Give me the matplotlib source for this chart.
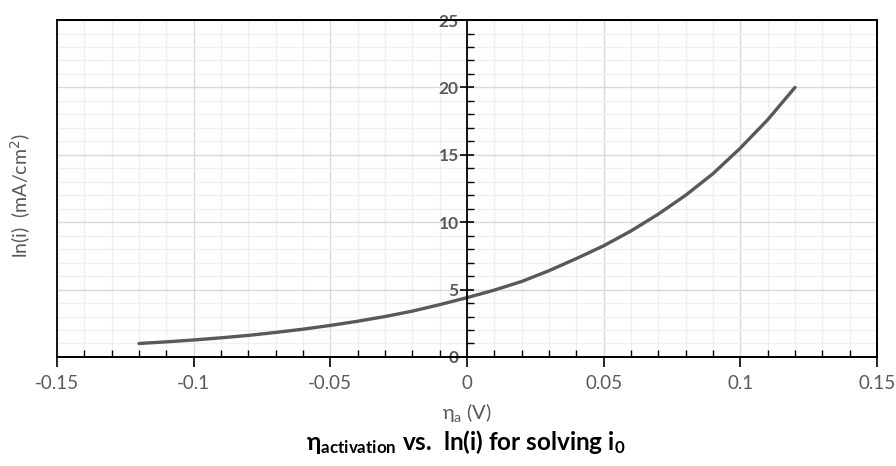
import matplotlib
matplotlib.use("Agg")
import matplotlib.pyplot as plt
from matplotlib.ticker import MultipleLocator
from matplotlib.patches import Rectangle

# Data
eta = [-0.12, -0.11, -0.10, -0.09, -0.08, -0.07, -0.06, -0.05, -0.04, -0.03, -0.02,
       -0.01, 0.0, 0.01, 0.02, 0.03, 0.04, 0.05, 0.06, 0.07, 0.08, 0.09, 0.10, 0.11, 0.12]
ln_i = [1.0, 1.12, 1.26, 1.42, 1.6, 1.82, 2.06, 2.34, 2.65, 3.0, 3.4,
        3.88, 4.4, 4.96, 5.6, 6.4, 7.3, 8.25, 9.35, 10.6, 12.0, 13.6, 15.5, 17.6, 20.0]
x_ticks = [-0.15, -0.1, -0.05, 0, 0.05, 0.1, 0.15]
x_ticklabels = ["-0.15", "-0.1", "-0.05", "0", "0.05", "0.1", "0.15"]
y_ticks = [0, 5, 10, 15, 20, 25]

gray = "#595959"
font = ["Lato", "DejaVu Sans"]
plt.rcParams['font.family'] = font

fig = plt.figure(figsize=(8.96, 4.66), dpi=100)
ax = fig.add_axes([0.0636, 0.234, 0.9152, 0.723])

ax.set_xlim(-0.15, 0.15)
ax.set_ylim(0, 25)

ax.plot(eta, ln_i, color=gray, lw=2.4, solid_capstyle='round',
        solid_joinstyle='round', zorder=5)

ax.xaxis.set_major_locator(MultipleLocator(0.05))
ax.xaxis.set_minor_locator(MultipleLocator(0.01))
ax.yaxis.set_major_locator(MultipleLocator(5))
ax.yaxis.set_minor_locator(MultipleLocator(1))

ax.grid(which='major', color='#d9d9d9', lw=1.0, zorder=0)
ax.grid(which='minor', color='#f0f0f0', lw=1.0, zorder=0)
ax.set_axisbelow(True)

ax.spines['left'].set_position(('data', 0))
ax.spines['left'].set_zorder(6)
ax.spines['bottom'].set_zorder(6)
for s in ax.spines.values():
    s.set_color('black')
    s.set_linewidth(1.3)

ax.set_xticks(x_ticks)
ax.set_xticklabels(x_ticklabels)
ax.set_yticks(y_ticks)
ax.set_yticklabels([str(v) for v in y_ticks])

ax.tick_params(axis='x', which='major', direction='out', length=7, width=1.2,
               colors='black', labelcolor=gray, labelsize=13.5, pad=6)
ax.tick_params(axis='x', which='minor', direction='in', length=5, width=1.0, colors='black')
ax.tick_params(axis='y', which='major', direction='inout', length=10, width=1.2,
               colors='black', labelcolor=gray, labelsize=12.5, pad=1)
ax.tick_params(axis='y', which='minor', direction='in', length=5, width=1.0, colors='black')
for lab in ax.get_yticklabels():
    lab.set_fontweight('bold')

# outer frame
ax.add_patch(Rectangle((0, 0), 1, 1, transform=ax.transAxes, fill=False,
                       edgecolor='black', lw=1.3, zorder=7, clip_on=False))

fig.text(0.023, 0.58, "ln(i)  (mA/cm$^2$)", rotation=90, ha='center', va='center',
         color=gray, fontsize=14)
fig.text(0.521, 0.114, r"$\mathregular{\eta_a}$ (V)", ha='center', va='center',
         color=gray, fontsize=14.5)
fig.text(0.52, 0.052, r"$\mathregular{\eta_{activation}}$ vs.  ln(i) for solving $\mathregular{i_0}$",
         ha='center', va='center', color='black', fontsize=17.5, fontweight='bold')

fig.savefig("out.png", dpi=100)
